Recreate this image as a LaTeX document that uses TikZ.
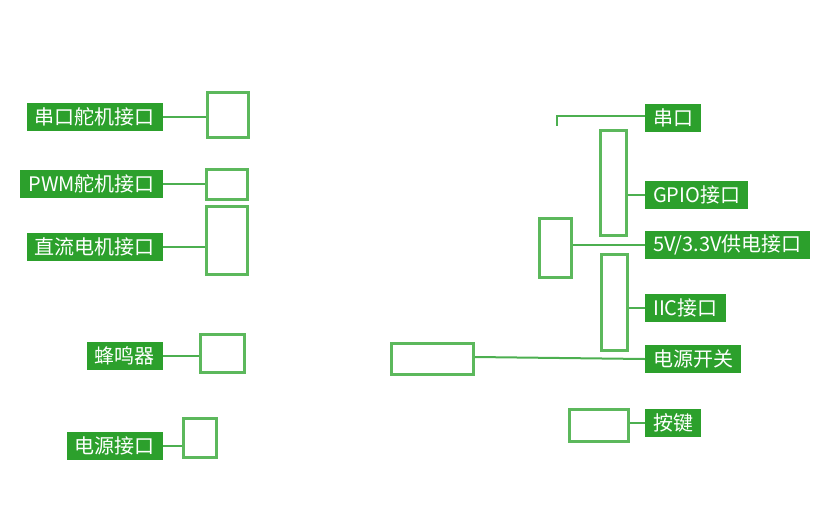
\documentclass[tikz,border=0pt]{standalone}
\usepackage{fontspec}
\setmainfont{Noto Sans CJK SC}
\definecolor{tagfill}{HTML}{2CA02C}
\definecolor{partline}{HTML}{5CB85C}
\definecolor{wireline}{HTML}{4CAF50}

\begin{document}
\begin{tikzpicture}[x=1pt, y=-1pt,
        tag/.style={fill=tagfill, text=white, inner xsep=8pt, inner ysep=0pt,
                    minimum height=28pt, font=\fontsize{20}{24}\selectfont},
        part/.style={draw=partline, line width=3pt, inner sep=0pt},
        wire/.style={draw=wireline, line width=2pt}
    ]
    \useasboundingbox (0,0) rectangle (828,523);

    % left side
    \node[tag, anchor=east] (lserv) at (163,117) {串口舵机接口};
    \node[tag, anchor=east] (lpwm)  at (163,184) {PWM舵机接口};
    \node[tag, anchor=east] (ldc)   at (163,247) {直流电机接口};
    \node[tag, anchor=east] (lbuzz) at (163,356) {蜂鸣器};
    \node[tag, anchor=east] (lpow)  at (163,446) {电源接口};

    \node[part, minimum width=41pt, minimum height=45pt] (bserv) at (228,115)   {};
    \node[part, minimum width=41pt, minimum height=30pt] (bpwm)  at (227,184.5) {};
    \node[part, minimum width=41pt, minimum height=68pt] (bdc)   at (227,240.5) {};
    \node[part, minimum width=44pt, minimum height=38pt] (bbuzz) at (222.5,353.5) {};
    \node[part, minimum width=33pt, minimum height=39pt] (bpow)  at (200,438)   {};

    % right side
    \node[tag, anchor=west] (rserial) at (645,118) {串口};
    \node[tag, anchor=west] (rgpio)   at (645,195) {GPIO接口};
    \node[tag, anchor=west] (rvcc)    at (645,245) {5V/3.3V供电接口};
    \node[tag, anchor=west] (riic)    at (645,308) {IIC接口};
    \node[tag, anchor=west] (rswitch) at (645,359) {电源开关};
    \node[tag, anchor=west] (rkey)    at (645,423) {按键};

    \node[part, minimum width=26pt, minimum height=105pt] (bgpio)   at (613.5,183)   {};
    \node[part, minimum width=32pt, minimum height=59pt]  (bvcc)    at (555.5,248)   {};
    \node[part, minimum width=26pt, minimum height=96pt]  (biic)    at (614.5,302.5) {};
    \node[part, minimum width=82pt, minimum height=31pt]  (bswitch) at (432.5,359)   {};
    \node[part, minimum width=59pt, minimum height=32pt]  (bkey)    at (599,425.5)   {};
    \coordinate (serialend) at (557,126);

    \draw[wire] (lserv.east) -- (bserv.west |- lserv.east);
    \draw[wire] (lpwm.east)  -- (bpwm.west |- lpwm.east);
    \draw[wire] (ldc.east)   -- (bdc.west |- ldc.east);
    \draw[wire] (lbuzz.east) -- (bbuzz.west |- lbuzz.east);
    \draw[wire] (lpow.east)  -- (bpow.west |- lpow.east);

    \draw[wire] ([yshift=2pt]rserial.west) -| (serialend);
    \draw[wire] (rgpio.west)   -- (bgpio.east |- rgpio.west);
    \draw[wire] (rvcc.west)    -- (bvcc.east |- rvcc.west);
    \draw[wire] (riic.west)    -- (biic.east |- riic.west);
    \draw[wire] (rswitch.west) -- ([yshift=2pt]bswitch.east);
    \draw[wire] (rkey.west)    -- (bkey.east |- rkey.west);
\end{tikzpicture}
\end{document}
